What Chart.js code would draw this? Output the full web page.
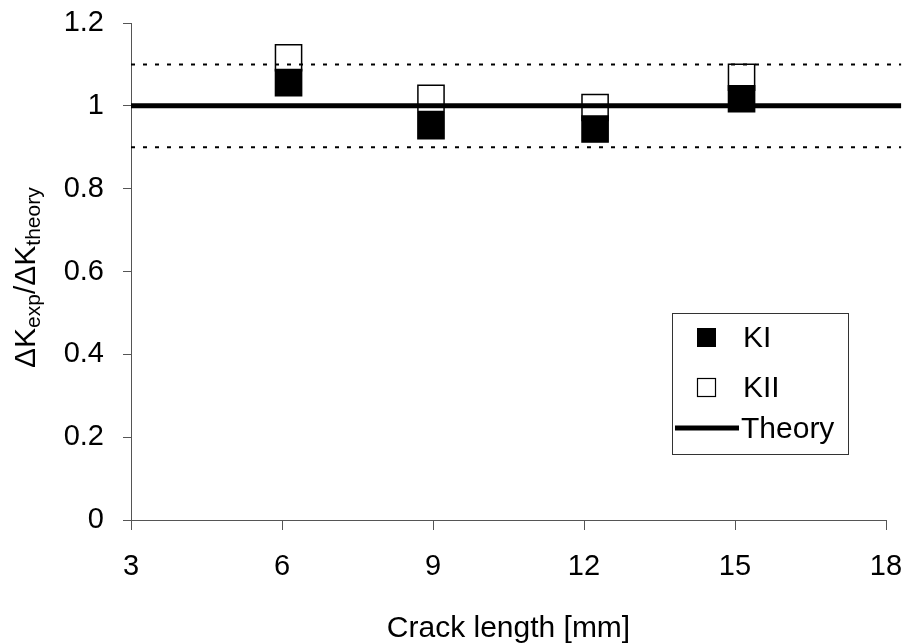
<!DOCTYPE html>
<html><head><meta charset="utf-8">
<script src="https://cdn.jsdelivr.net/npm/chart.js@4/dist/chart.umd.min.js"></script>
<style>html,body{margin:0;padding:0;background:#fff;}canvas{display:block;}</style>
</head><body>
<canvas id="c" width="909" height="644"></canvas>
<script>
// ---- data ----
const crackLength = [6.13, 8.96, 12.22, 15.13];
const kI  = [1.056, 0.952, 0.944, 1.017];
const kII = [1.116, 1.018, 0.996, 1.069];
const theoryX = [3, 18.3];
const theoryValue = 1.0;
const upperBound = 1.1;
const lowerBound = 0.9;
const xTicks = [3, 6, 9, 12, 15, 18];
const yTickLabels = ['0', '0.2', '0.4', '0.6', '0.8', '1', '1.2'];
const seriesNames = ['KI', 'KII', 'Theory'];
const xTitle = 'Crack length [mm]';
const yTitleParts = [['\u0394K', 'main'], ['exp', 'sub'], ['/\u0394K', 'main'], ['theory', 'sub']];

const FONT = "'Liberation Sans', Arial, sans-serif";

const pts = (xs, ys) => xs.map((x, i) => ({x: x, y: ys[i]}));
const hline = (v) => theoryX.map(x => ({x: x, y: v}));

const yTitlePlugin = {
  id: 'yTitle',
  afterDraw(chart) {
    const ctx = chart.ctx;
    ctx.save();
    ctx.translate(35, 368);
    ctx.rotate(-Math.PI / 2);
    ctx.fillStyle = '#000';
    ctx.textAlign = 'left';
    ctx.textBaseline = 'alphabetic';
    let x = 0;
    for (const [t, kind] of yTitleParts) {
      const size = kind === 'main' ? 30 : 21;
      const dy = kind === 'main' ? 0 : 5;
      ctx.font = size + 'px ' + FONT;
      ctx.fillText(t, x, dy);
      x += ctx.measureText(t).width;
    }
    ctx.restore();
  }
};

const legendPlugin = {
  id: 'boxLegend',
  afterDraw(chart) {
    const ctx = chart.ctx;
    const ds = chart.data.datasets;
    ctx.save();
    ctx.fillStyle = '#fff';
    ctx.fillRect(672.5, 313.5, 176, 141);
    ctx.strokeStyle = '#333';
    ctx.lineWidth = 1;
    ctx.strokeRect(672.5, 313.5, 176, 141);
    // KI marker
    ctx.fillStyle = ds[3].backgroundColor;
    ctx.fillRect(697, 328, 19, 19);
    // KII marker
    ctx.fillStyle = ds[4].backgroundColor;
    ctx.fillRect(697.5, 378.5, 18, 18);
    ctx.strokeStyle = ds[4].borderColor;
    ctx.lineWidth = 1.2;
    ctx.strokeRect(697.5, 378.5, 18, 18);
    // Theory line
    ctx.strokeStyle = ds[0].borderColor;
    ctx.lineWidth = 5;
    ctx.beginPath();
    ctx.moveTo(675, 428);
    ctx.lineTo(739, 428);
    ctx.stroke();
    ctx.fillStyle = '#000';
    ctx.font = '30px ' + FONT;
    ctx.textBaseline = 'middle';
    ctx.textAlign = 'left';
    ctx.fillText(seriesNames[0], 743, 339);
    ctx.fillText(seriesNames[1], 743, 389);
    ctx.fillText(seriesNames[2], 741, 430);
    ctx.restore();
  }
};

new Chart(document.getElementById('c'), {
  type: 'scatter',
  data: {
    datasets: [
      { label: seriesNames[2], data: hline(theoryValue), showLine: true, borderColor: '#000',
        borderWidth: 5, pointRadius: 0, clip: false, order: 0 },
      { label: 'upper', data: hline(upperBound), showLine: true, borderColor: '#000',
        borderWidth: 2, borderDash: [4, 8], pointRadius: 0, clip: false, order: 0 },
      { label: 'lower', data: hline(lowerBound), showLine: true, borderColor: '#000',
        borderWidth: 2, borderDash: [4, 8], pointRadius: 0, clip: false, order: 0 },
      { label: seriesNames[0], data: pts(crackLength, kI), pointStyle: 'rect', pointRadius: 18.5,
        backgroundColor: '#000', borderColor: '#000', borderWidth: 1.5, clip: false, order: 1 },
      { label: seriesNames[1], data: pts(crackLength, kII), pointStyle: 'rect', pointRadius: 18.5,
        backgroundColor: '#fff', borderColor: '#000', borderWidth: 1.5, clip: false, order: 2 }
    ]
  },
  options: {
    responsive: false,
    devicePixelRatio: 1,
    animation: false,
    layout: { padding: { left: 0, top: 23, right: 23, bottom: 0 } },
    plugins: { legend: { display: false }, tooltip: { enabled: false } },
    scales: {
      x: {
        type: 'linear', min: 3, max: 18,
        afterBuildTicks(s) { s.ticks = xTicks.map(v => ({value: v})); },
        ticks: { font: { size: 29, family: FONT }, color: '#000', padding: 20, maxRotation: 0, autoSkip: false },
        grid: { display: true, drawOnChartArea: false, drawTicks: true, tickLength: 10, color: '#555', lineWidth: 1 },
        border: { display: true, color: '#555', width: 1 },
        title: { display: true, text: xTitle, color: '#000', font: { size: 30, family: FONT, lineHeight: 1 }, padding: { top: 0, bottom: 0 } },
        afterFit(s) { s.height = 124; s.paddingLeft = 0; s.paddingRight = 0; }
      },
      y: {
        type: 'linear', min: 0, max: 1.2,
        afterBuildTicks(s) { s.ticks = yTickLabels.map(t => ({value: parseFloat(t)})); },
        ticks: { callback: (v, i) => yTickLabels[i], font: { size: 29, family: FONT }, color: '#000', padding: 19 },
        grid: { display: true, drawOnChartArea: false, drawTicks: true, tickLength: 8, color: '#555', lineWidth: 1 },
        border: { display: true, color: '#555', width: 1 },
        afterFit(s) { s.width = 131; s.paddingTop = 0; s.paddingBottom = 0; }
      }
    }
  },
  plugins: [yTitlePlugin, legendPlugin]
});
</script>
</body></html>
